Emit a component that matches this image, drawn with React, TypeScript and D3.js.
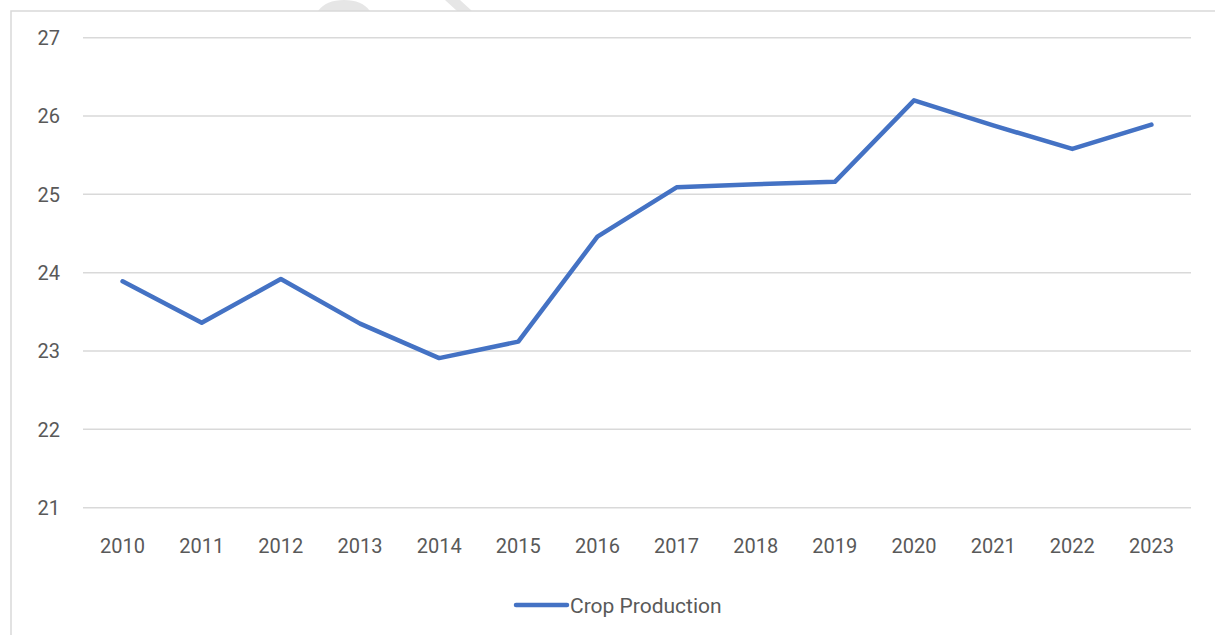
import React, { useRef, useEffect } from "react";
import * as d3 from "d3";

const years = [
  "2010", "2011", "2012", "2013", "2014", "2015", "2016",
  "2017", "2018", "2019", "2020", "2021", "2022", "2023",
];
const cropProduction = [
  23.89, 23.36, 23.92, 23.35, 22.91, 23.12, 24.46,
  25.09, 25.13, 25.16, 26.2, 25.88, 25.58, 25.89,
];
const yTicks = [21, 22, 23, 24, 25, 26, 27];
const seriesName = "Crop Production";

const W = 1215;
const H = 635;

const App = () => {
  const ref = useRef<SVGSVGElement>(null);

  useEffect(() => {
    if (!ref.current) return;
    const svg = d3.select(ref.current);
    svg.selectAll("*").remove();

    const font = "Roboto, 'Open Sans', sans-serif";
    const grey = "#595959";

    // faint watermark bits peeking over the frame
    svg.append("path")
      .attr("d", "M318,11 Q326,0 344,0 Q362,0 370,11 Z")
      .attr("fill", "#e6e6e6");
    svg.append("path")
      .attr("d", "M445,0 L460,0 L472,11 L457,11 Z")
      .attr("fill", "#e6e6e6");

    // chart frame
    svg.append("rect")
      .attr("x", 11)
      .attr("y", 11)
      .attr("width", W)
      .attr("height", H + 20)
      .attr("fill", "none")
      .attr("stroke", "#d9d9d9")
      .attr("stroke-width", 1.5);

    const left = 83;
    const right = 1191;

    const x = d3.scaleBand<string>()
      .domain(years)
      .range([left, right]);

    const y = d3.scaleLinear()
      .domain([21, 27])
      .range([507.7, 37.7]);

    // gridlines
    svg.append("g")
      .selectAll("line")
      .data(yTicks)
      .join("line")
      .attr("x1", left)
      .attr("x2", right)
      .attr("y1", (d) => y(d))
      .attr("y2", (d) => y(d))
      .attr("stroke", "#d9d9d9")
      .attr("stroke-width", 1.5);

    // y labels
    svg.append("g")
      .selectAll("text")
      .data(yTicks)
      .join("text")
      .attr("x", 60)
      .attr("y", (d) => y(d))
      .attr("dy", "0.36em")
      .attr("text-anchor", "end")
      .attr("font-family", font)
      .attr("font-size", 20)
      .attr("fill", grey)
      .text((d) => d);

    // x labels
    const cx = (d: string) => (x(d) as number) + x.bandwidth() / 2;
    svg.append("g")
      .selectAll("text")
      .data(years)
      .join("text")
      .attr("x", (d) => cx(d))
      .attr("y", 553)
      .attr("text-anchor", "middle")
      .attr("font-family", font)
      .attr("font-size", 20)
      .attr("fill", grey)
      .text((d) => d);

    const line = d3.line<number>()
      .x((_, i) => cx(years[i]))
      .y((d) => y(d));

    svg.append("path")
      .datum(cropProduction)
      .attr("fill", "none")
      .attr("stroke", "#4472c4")
      .attr("stroke-width", 4.5)
      .attr("stroke-linejoin", "round")
      .attr("stroke-linecap", "round")
      .attr("d", line);

    // legend
    const lg = svg.append("g");
    lg.append("line")
      .attr("x1", 516)
      .attr("x2", 567)
      .attr("y1", 605)
      .attr("y2", 605)
      .attr("stroke", "#4472c4")
      .attr("stroke-width", 4.5)
      .attr("stroke-linecap", "round");
    lg.append("text")
      .attr("x", 570)
      .attr("y", 613)
      .attr("font-family", font)
      .attr("font-size", 21)
      .attr("fill", grey)
      .text(seriesName);
  }, []);

  return (
    <svg
      ref={ref}
      width={W}
      height={H}
      style={{ position: "absolute", left: 0, top: 0, background: "#fff" }}
    />
  );
};

export default App;
